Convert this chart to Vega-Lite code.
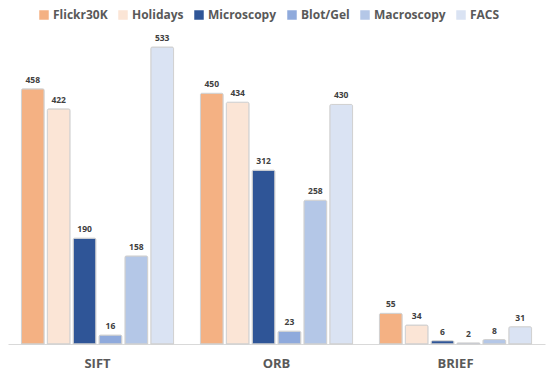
{
  "$schema": "https://vega.github.io/schema/vega-lite/v6.json",
  "width": 537,
  "height": 312,
  "autosize": {"type": "none"},
  "padding": {"left": 8, "right": 5, "top": 32, "bottom": 27},
  "background": "white",
  "data": {"values": [
    {"method": "SIFT", "dataset": "Flickr30K", "value": 458},
    {"method": "SIFT", "dataset": "Holidays", "value": 422},
    {"method": "SIFT", "dataset": "Microscopy", "value": 190},
    {"method": "SIFT", "dataset": "Blot/Gel", "value": 16},
    {"method": "SIFT", "dataset": "Macroscopy", "value": 158},
    {"method": "SIFT", "dataset": "FACS", "value": 533},
    {"method": "ORB", "dataset": "Flickr30K", "value": 450},
    {"method": "ORB", "dataset": "Holidays", "value": 434},
    {"method": "ORB", "dataset": "Microscopy", "value": 312},
    {"method": "ORB", "dataset": "Blot/Gel", "value": 23},
    {"method": "ORB", "dataset": "Macroscopy", "value": 258},
    {"method": "ORB", "dataset": "FACS", "value": 430},
    {"method": "BRIEF", "dataset": "Flickr30K", "value": 55},
    {"method": "BRIEF", "dataset": "Holidays", "value": 34},
    {"method": "BRIEF", "dataset": "Microscopy", "value": 6},
    {"method": "BRIEF", "dataset": "Blot/Gel", "value": 2},
    {"method": "BRIEF", "dataset": "Macroscopy", "value": 8},
    {"method": "BRIEF", "dataset": "FACS", "value": 31}
  ]},
  "encoding": {
    "x": {"field": "method", "type": "nominal", "sort": ["SIFT", "ORB", "BRIEF"],
      "scale": {"paddingInner": 0.15, "paddingOuter": 0.075},
      "axis": {"title": null, "labelAngle": 0, "labelFont": "Open Sans", "labelFontWeight": "bold", "labelFontSize": 13, "labelColor": "#595959", "labelPadding": 13, "ticks": false, "domainColor": "#d9d9d9", "domainWidth": 1}},
    "xOffset": {"field": "dataset", "type": "nominal", "sort": ["Flickr30K", "Holidays", "Microscopy", "Blot/Gel", "Macroscopy", "FACS"], "scale": {"paddingInner": 0.12}},
    "y": {"field": "value", "type": "quantitative", "scale": {"domain": [0, 560]}, "axis": null}
  },
  "layer": [
    {
      "mark": {"type": "bar", "stroke": "#d0d0d0", "strokeWidth": 1, "cornerRadiusTopLeft": 1.5, "cornerRadiusTopRight": 1.5},
      "encoding": {
        "color": {"field": "dataset", "type": "nominal", "sort": ["Flickr30K", "Holidays", "Microscopy", "Blot/Gel", "Macroscopy", "FACS"],
          "scale": {"domain": ["Flickr30K", "Holidays", "Microscopy", "Blot/Gel", "Macroscopy", "FACS"], "range": ["#F4B183", "#FBE5D6", "#2F5597", "#8FAADC", "#B4C7E7", "#DAE3F3"]},
          "legend": {"title": null, "orient": "none", "legendX": 30, "legendY": -23, "direction": "horizontal", "symbolType": "square", "symbolSize": 90, "symbolStrokeWidth": 0, "labelOffset": 3, "labelFont": "Open Sans", "labelFontWeight": "bold", "labelFontSize": 12, "labelColor": "#595959", "columnPadding": 9}}
      }
    },
    {
      "mark": {"type": "text", "dy": -9, "font": "Open Sans", "fontWeight": "bold", "fontSize": 8.5, "color": "#404040"},
      "encoding": {"text": {"field": "value", "type": "quantitative"}}
    }
  ],
  "config": {"view": {"stroke": null}}
}
